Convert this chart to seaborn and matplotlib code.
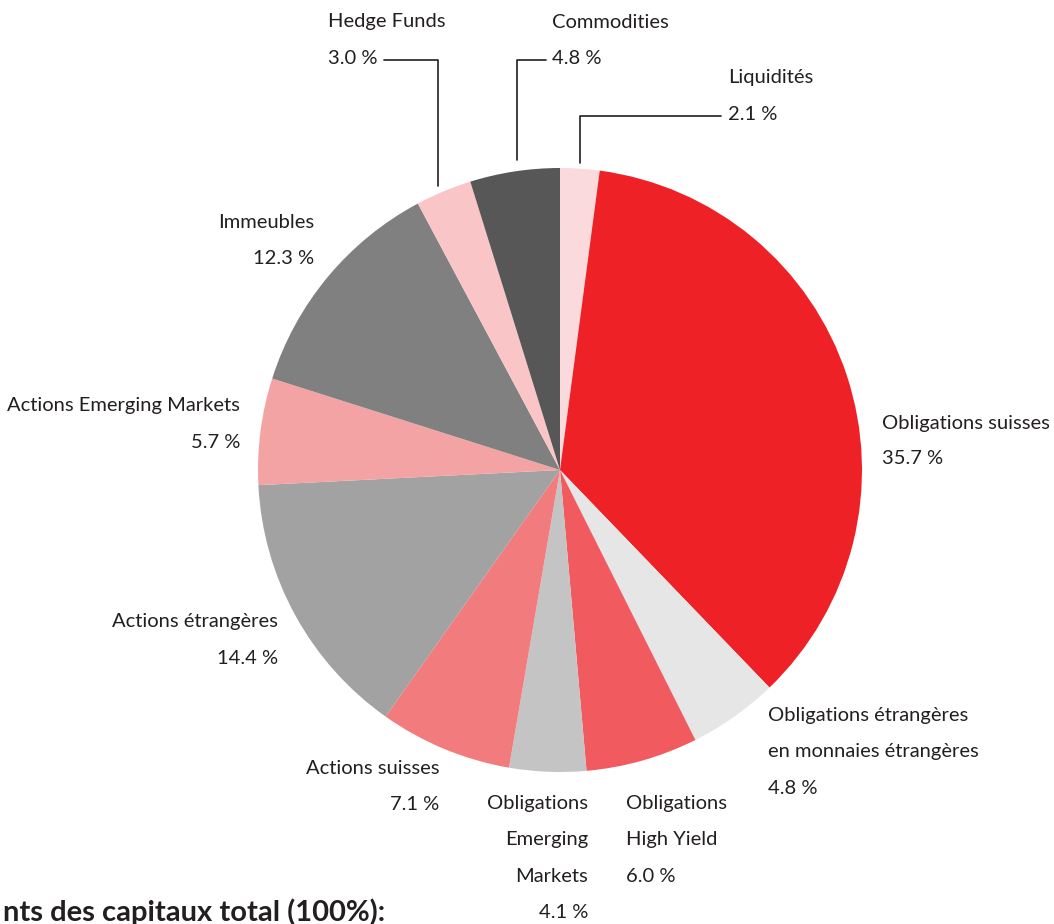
import matplotlib
matplotlib.use("Agg")
import matplotlib.pyplot as plt
import seaborn as sns

# Répartition des capitaux
categories = ["Liquidités", "Obligations suisses",
              "Obligations étrangères\nen monnaies étrangères",
              "Obligations\nHigh Yield", "Obligations\nEmerging\nMarkets",
              "Actions suisses", "Actions étrangères",
              "Actions Emerging Markets", "Immeubles", "Hedge Funds",
              "Commodities"]
values = [2.1, 35.7, 4.8, 6.0, 4.1, 7.1, 14.4, 5.7, 12.3, 3.0, 4.8]
colors = ["#FADADD", "#EE2127", "#E6E6E6", "#F15A5E", "#C4C4C4", "#F27B7E",
          "#A2A2A2", "#F4A3A4", "#808080", "#F9C5C6", "#575757"]
caption = "nts des capitaux total (100%):"

sns.set_theme(style="white")
plt.rcParams['font.family'] = ['Lato', 'DejaVu Sans']

W, H = 1054, 924
fig = plt.figure(figsize=(W / 100, H / 100), dpi=100)
ax = fig.add_axes([0, 0, 1, 1])

cx, cy, r = 560, H - 470, 302
ax.pie(values, colors=colors, startangle=90, counterclock=False,
       center=(cx, cy), radius=r, frame=True,
       wedgeprops=dict(linewidth=0))

ax.set_xlim(0, W)
ax.set_ylim(0, H)
ax.set_aspect('equal')
ax.axis('off')

fs = 14.5
tc = "#231f20"

def lab(x, y, lines, ha="left"):
    for i, s in enumerate(lines):
        ax.text(x, H - (y + 36 * i), s, ha=ha, va="center", fontsize=fs, color=tc)

def pct(v):
    return f"{v:.1f} %"

# (x, y-top, alignment) for each label, in pixel coordinates
places = {
    0: (728, 78, "left"),
    1: (882, 423, "left"),
    2: (768, 716, "left"),
    3: (626, 804, "left"),
    4: (588, 804, "right"),
    5: (439, 768, "right"),
    6: (278, 622, "right"),
    7: (240, 406, "right"),
    8: (314, 222, "right"),
    9: (328, 22, "left"),
    10: (552, 22, "left"),
}
for i, (x, y, ha) in places.items():
    lab(x, y, categories[i].split("\n") + [pct(values[i])], ha=ha)

# leader lines for small slices at the top
lw = 1.2
ax.plot([384, 438, 438], [H - 60, H - 60, H - 186], color=tc, lw=lw)
ax.plot([546, 517, 517], [H - 60, H - 60, H - 160], color=tc, lw=lw)
ax.plot([721, 580, 580], [H - 116, H - 116, H - 163], color=tc, lw=lw)

ax.text(3, H - 912, caption, ha="left", va="center", fontsize=21,
        fontweight="bold", color=tc)

fig.savefig("out.png", dpi=100)
